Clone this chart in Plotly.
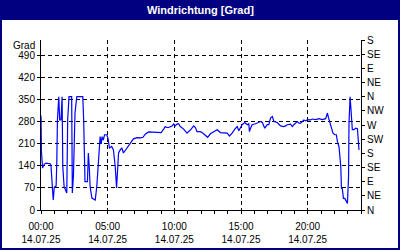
import pandas as pd
import plotly.graph_objects as go

# Minutes after 14.07.25 00:00 and wind direction in degrees
minutes = [0, 2, 7, 14, 23, 32, 41, 45, 50, 55, 60, 68, 71, 74, 80, 84, 90, 95, 98, 104,
           110, 116, 120, 126, 138, 141, 146, 153, 161, 188, 192, 195, 198, 209, 213, 217, 221, 229, 244, 251,
           256, 262, 266, 271, 275, 280, 286, 296, 302, 308, 318, 326, 334, 340, 344, 349, 356, 364, 371, 387,
           401, 409, 416, 432, 447, 459, 469, 484, 499, 514, 529, 541, 552, 559, 567, 574, 590, 597, 604, 612,
           619, 627, 642, 657, 664, 672, 687, 695, 702, 717, 725, 732, 744, 750, 762, 777, 793, 807, 822, 838,
           848, 860, 872, 883, 890, 898, 905, 917, 928, 935, 938, 943, 950, 965, 978, 988, 996, 1007, 1018, 1025,
           1033, 1041, 1048, 1063, 1078, 1093, 1101, 1108, 1123, 1131, 1138, 1146, 1153, 1161, 1168, 1183, 1191, 1199, 1213, 1221,
           1236, 1251, 1266, 1281, 1289, 1293, 1301, 1307, 1314, 1322, 1329, 1334, 1341, 1349, 1352, 1356, 1361, 1367, 1371, 1379,
           1384, 1386, 1391, 1394, 1397, 1401, 1409, 1416, 1424, 1427, 1431]
degrees = [300, 186, 133, 145, 149, 149, 147, 140, 64, 32, 73, 76, 149, 286, 360, 286, 286, 360, 138, 74,
           64, 54, 286, 360, 360, 54, 110, 308, 360, 360, 286, 159, 90, 90, 181, 140, 74, 38, 32, 74,
           138, 181, 233, 210, 233, 222, 239, 239, 226, 197, 202, 191, 138, 70, 120, 181, 190, 197, 181, 197,
           212, 223, 226, 230, 229, 231, 241, 248, 248, 247, 246, 246, 257, 265, 262, 262, 267, 273, 267, 273,
           274, 265, 257, 244, 249, 254, 267, 262, 249, 249, 246, 241, 233, 231, 242, 249, 255, 246, 244, 244,
           235, 244, 257, 265, 252, 265, 271, 278, 271, 274, 249, 260, 271, 274, 278, 281, 278, 260, 271, 271,
           292, 297, 281, 278, 267, 265, 267, 271, 273, 265, 271, 276, 281, 276, 276, 286, 283, 287, 286, 289,
           287, 290, 287, 290, 308, 295, 276, 260, 244, 239, 239, 217, 201, 138, 69, 67, 37, 37, 32, 21,
           106, 276, 360, 318, 281, 255, 255, 260, 258, 228, 191]

left_ticks = [0, 70, 140, 210, 280, 350, 420, 490]
compass_vals = [0, 45, 90, 135, 180, 225, 270, 315, 360, 405, 450, 495, 540]
compass_text = ["N", "NE", "E", "SE", "S", "SW", "W", "NW", "N", "NE", "E", "SE", "S"]
title_text = "Windrichtung [Grad]"
unit_text = "Grad"

start = pd.Timestamp("2025-07-14 00:00")
times = [start + pd.Timedelta(minutes=m) for m in minutes]

FONT = "Liberation Sans, Arial, sans-serif"
NAVY = "#000080"

fig = go.Figure()
fig.add_trace(go.Scatter(x=times, y=degrees, mode="lines",
                         line=dict(color="#0000FF", width=1.2),
                         showlegend=False, hoverinfo="skip"))
fig.add_trace(go.Scatter(x=[start], y=[0], yaxis="y2", mode="markers",
                         marker=dict(opacity=0), showlegend=False, hoverinfo="skip"))

W, H = 400, 250
L, R, T, B = 41, 39, 40, 40
pw, ph = W - L - R, H - T - B

def px(x):
    return (x - L) / pw

def py(y):
    return (H - B - y) / ph

fig.update_layout(
    width=W, height=H,
    margin=dict(l=L, r=R, t=T, b=B, pad=0, autoexpand=False),
    paper_bgcolor="white", plot_bgcolor="white",
    font=dict(family=FONT, size=10, color="black"),
    xaxis=dict(
        type="date",
        range=[start, start + pd.Timedelta(hours=24)],
        tick0=start, dtick=5 * 3600000,
        tickformat="%H:%M<br>%d.%m.%y",
        ticks="outside", ticklen=3, tickcolor="black",
        ticklabelstandoff=4,
        automargin=False,
        showline=True, linecolor="black", linewidth=1,
        showgrid=True, gridcolor="black", gridwidth=1, griddash="4px,3px",
        zeroline=False,
        minor=dict(dtick=3600000, ticks="outside", ticklen=3, tickcolor="black", showgrid=False),
        tickfont=dict(size=10),
        fixedrange=True,
    ),
    yaxis=dict(
        range=[0, 540],
        tickvals=left_ticks,
        ticks="outside", ticklen=3, tickcolor="black",
        automargin=False,
        showline=True, linecolor="black", linewidth=1,
        showgrid=True, gridcolor="black", gridwidth=1, griddash="4px,3px",
        zeroline=False,
        tickfont=dict(size=10),
    ),
    yaxis2=dict(
        overlaying="y", side="right",
        range=[0, 540],
        tickvals=compass_vals, ticktext=compass_text,
        ticks="outside", ticklen=3, tickcolor="black",
        automargin=False,
        showline=True, linecolor="black", linewidth=1,
        showgrid=False, zeroline=False,
        tickfont=dict(size=10),
    ),
    shapes=[
        dict(type="rect", xref="paper", yref="paper",
             x0=px(0), x1=px(W), y0=py(20), y1=py(0),
             fillcolor=NAVY, line=dict(width=0), layer="above"),
        dict(type="rect", xref="paper", yref="paper",
             x0=px(1), x1=px(W - 1), y0=py(H - 1), y1=py(1),
             fillcolor="rgba(0,0,0,0)", line=dict(color=NAVY, width=2), layer="above"),
    ],
    annotations=[
        dict(text="<b>" + title_text + "</b>", xref="paper", yref="paper",
             x=px(W / 2), y=py(10), xanchor="center", yanchor="middle",
             showarrow=False, font=dict(family=FONT, size=11, color="white")),
        dict(text=unit_text, xref="paper", yref="paper",
             x=px(37), y=py(45), xanchor="right", yanchor="middle",
             showarrow=False, font=dict(family=FONT, size=10, color="black")),
    ],
)

fig.write_html("out.html")
